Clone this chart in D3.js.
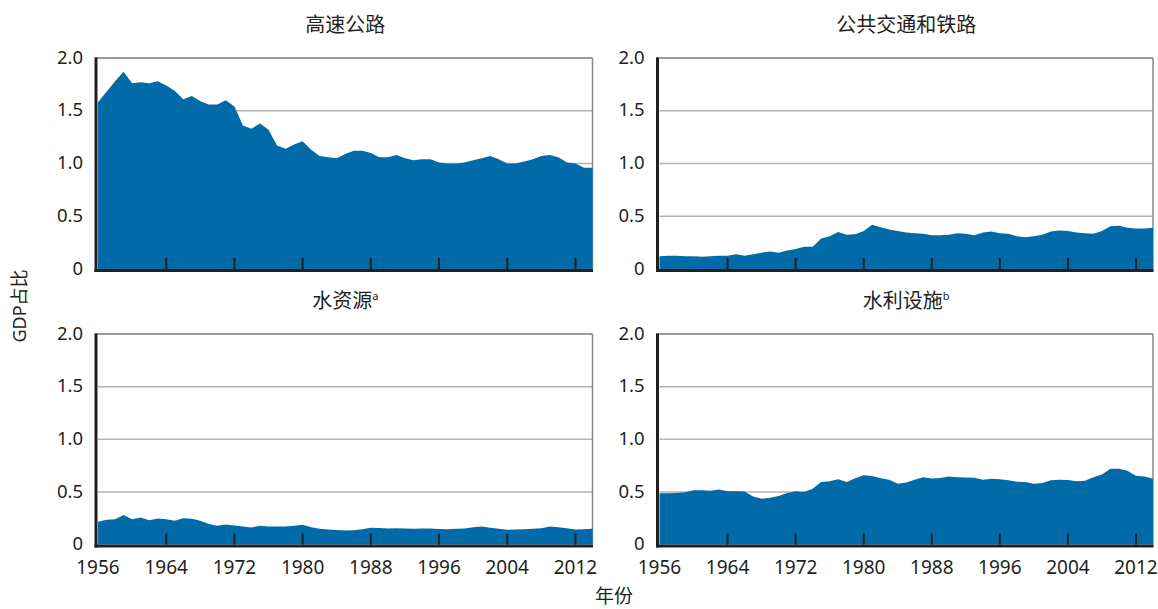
<!DOCTYPE html>
<html>
<head>
<meta charset="utf-8">
<script src="https://cdn.jsdelivr.net/npm/d3@7"></script>
<style>
  body { margin: 0; background: #fff; }
  svg text { font-family: 'Noto Sans', 'Noto Sans CJK SC', sans-serif; fill: #231f20; }
</style>
</head>
<body>
<div id="chart"></div>
<script>
'use strict'

const years = d3.range(1956, 2015)

const highway = [
  1.58, 1.68, 1.78, 1.87, 1.76, 1.77, 1.76, 1.78, 1.74, 1.69,
  1.61, 1.64, 1.59, 1.56, 1.56, 1.60, 1.54, 1.36, 1.33, 1.38,
  1.32, 1.17, 1.14, 1.18, 1.21, 1.13, 1.07, 1.06, 1.05, 1.09,
  1.12, 1.12, 1.10, 1.06, 1.06, 1.08, 1.05, 1.03, 1.04, 1.04,
  1.01, 1.00, 1.00, 1.01, 1.03, 1.05, 1.07, 1.04, 1.00, 1.00,
  1.02, 1.04, 1.07, 1.08, 1.06, 1.01, 1.00, 0.96, 0.96
]
const transit = [
  0.12, 0.125, 0.125, 0.12, 0.12, 0.115, 0.12, 0.125, 0.125, 0.14,
  0.125, 0.14, 0.155, 0.165, 0.155, 0.175, 0.19, 0.21, 0.21, 0.29,
  0.31, 0.35, 0.325, 0.33, 0.36, 0.42, 0.395, 0.375, 0.36, 0.345,
  0.34, 0.335, 0.32, 0.32, 0.325, 0.34, 0.335, 0.32, 0.345, 0.355,
  0.34, 0.335, 0.31, 0.30, 0.31, 0.325, 0.355, 0.365, 0.36, 0.345,
  0.34, 0.335, 0.36, 0.405, 0.41, 0.39, 0.385, 0.385, 0.39
]
const water = [
  0.215, 0.235, 0.24, 0.28, 0.24, 0.257, 0.23, 0.247, 0.24, 0.225,
  0.25, 0.245, 0.225, 0.195, 0.178, 0.19, 0.18, 0.172, 0.162, 0.177,
  0.17, 0.17, 0.17, 0.178, 0.187, 0.165, 0.149, 0.142, 0.137, 0.134,
  0.135, 0.146, 0.158, 0.157, 0.152, 0.155, 0.152, 0.149, 0.152, 0.152,
  0.148, 0.146, 0.149, 0.152, 0.165, 0.172, 0.16, 0.15, 0.14, 0.143,
  0.145, 0.149, 0.155, 0.17, 0.165, 0.155, 0.143, 0.145, 0.149
]
const utilities = [
  0.486, 0.488, 0.49, 0.497, 0.515, 0.515, 0.51, 0.522, 0.505, 0.505,
  0.503, 0.455, 0.435, 0.445, 0.46, 0.49, 0.505, 0.50, 0.53, 0.595,
  0.60, 0.62, 0.595, 0.63, 0.657, 0.65, 0.63, 0.615, 0.578, 0.59,
  0.615, 0.64, 0.628, 0.633, 0.645, 0.64, 0.637, 0.635, 0.615, 0.625,
  0.62, 0.61, 0.596, 0.594, 0.578, 0.585, 0.61, 0.615, 0.612, 0.60,
  0.605, 0.64, 0.665, 0.72, 0.72, 0.70, 0.653, 0.647, 0.625
]

const xTicks = [1956, 1964, 1972, 1980, 1988, 1996, 2004, 2012]
const yTicks = [0, 0.5, 1.0, 1.5, 2.0]

const panels = [
  { title: '高速公路', sup: '', values: highway, x: [98, 592.5], y: [269, 58] },
  { title: '公共交通和铁路', sup: '', values: transit, x: [659.5, 1153], y: [269, 58] },
  { title: '水资源', sup: 'a', values: water, x: [98, 592.5], y: [544.5, 334] },
  { title: '水利设施', sup: 'b', values: utilities, x: [659.5, 1153], y: [544.5, 334] }
]

const fillColor = '#006ba8'
const inkColor = '#231f20'

const svg = d3.select('#chart')
  .append('svg')
  .attr('width', 1158)
  .attr('height', 609)

function drawPanel (p) {
  const x = d3.scaleLinear().domain([1956, 2014]).range(p.x)
  const y = d3.scaleLinear().domain([0, 2]).range(p.y)
  const g = svg.append('g')
  const data = years.map((yr, i) => ({ year: yr, value: p.values[i] }))

  // gridlines
  g.selectAll('line.grid')
    .data(yTicks.filter(d => d > 0 && d < 2))
    .enter()
    .append('line')
    .attr('x1', p.x[0])
    .attr('x2', p.x[1])
    .attr('y1', d => y(d))
    .attr('y2', d => y(d))
    .attr('stroke', '#b2b2b2')
    .attr('stroke-width', 1.5)

  // frame top and right
  g.append('line')
    .attr('x1', p.x[0] - 3).attr('x2', p.x[1])
    .attr('y1', y(2)).attr('y2', y(2))
    .attr('stroke', '#3a3a3a').attr('stroke-width', 1.2)
  g.append('line')
    .attr('x1', p.x[1]).attr('x2', p.x[1])
    .attr('y1', y(2)).attr('y2', y(0))
    .attr('stroke', '#8a8a8a').attr('stroke-width', 1.5)

  const area = d3.area()
    .x(d => x(d.year))
    .y0(y(0))
    .y1(d => y(d.value))
  g.append('path')
    .datum(data)
    .attr('d', area)
    .attr('fill', fillColor)

  // ticks pointing up into the plot
  g.selectAll('line.tick')
    .data(xTicks.slice(1))
    .enter()
    .append('line')
    .attr('x1', d => x(d))
    .attr('x2', d => x(d))
    .attr('y1', y(0))
    .attr('y2', y(0) - 11)
    .attr('stroke', inkColor)
    .attr('stroke-width', 2)

  // axes lines
  g.append('line')
    .attr('x1', p.x[0] - 2).attr('x2', p.x[0] - 2)
    .attr('y1', y(2) - 0.5).attr('y2', y(0) + 3)
    .attr('stroke', inkColor).attr('stroke-width', 3)
  g.append('line')
    .attr('x1', p.x[0] - 3.5).attr('x2', p.x[1] + 0.5)
    .attr('y1', y(0) + 1.5).attr('y2', y(0) + 1.5)
    .attr('stroke', inkColor).attr('stroke-width', 3)

  // y labels
  g.selectAll('text.ylab')
    .data(yTicks)
    .enter()
    .append('text')
    .attr('x', p.x[0] - 15)
    .attr('y', d => y(d) - 1)
    .attr('dy', '0.36em')
    .attr('text-anchor', 'end')
    .attr('font-size', 18.5)
    .text(d => d === 0 ? '0' : d.toFixed(1))

  // x labels only on bottom row
  if (p.y[0] > 400) {
    g.selectAll('text.xlab')
      .data(xTicks)
      .enter()
      .append('text')
      .attr('x', d => x(d))
      .attr('y', y(0) + 29)
      .attr('text-anchor', 'middle')
      .attr('font-size', 19)
      .text(d => d)
  }

  const title = g.append('text')
    .attr('x', (p.x[0] + p.x[1]) / 2)
    .attr('y', p.y[1] - 26)
    .attr('text-anchor', 'middle')
    .attr('font-size', 20)
    .text(p.title)
  if (p.sup) {
    title.append('tspan')
      .attr('font-size', 11)
      .attr('dy', -8)
      .text(p.sup)
  }
}

panels.forEach(drawPanel)

svg.append('text')
  .attr('transform', 'translate(26,306) rotate(-90)')
  .attr('text-anchor', 'middle')
  .attr('font-size', 18)
  .text('GDP占比')

svg.append('text')
  .attr('x', 614)
  .attr('y', 603)
  .attr('text-anchor', 'middle')
  .attr('font-size', 19)
  .text('年份')
</script>
</body>
</html>
